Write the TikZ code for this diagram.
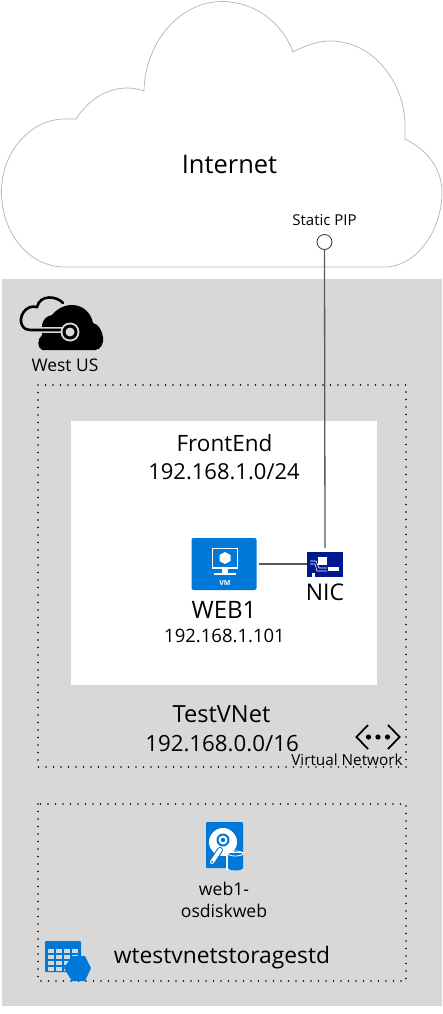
\documentclass[tikz,border=0pt]{standalone}
\usepackage{fontspec}
\setmainfont{Open Sans}
\definecolor{panelgray}{HTML}{D8D8D8}
\definecolor{azure}{HTML}{0078D7}
\definecolor{nicblue}{HTML}{00188F}
\definecolor{cloudline}{HTML}{B4B4B4}
\definecolor{wire}{HTML}{595959}
\tikzset{
  lbl/.style={inner sep=0pt,align=center,text=black,font=\fontsize{#1}{1.2\dimexpr #1pt\relax}\selectfont},
  lbl/.default=16,
  dotbox/.style={draw=black,line width=1.6pt,line cap=round,dash pattern=on 0pt off 7.5pt},
  wireline/.style={draw=wire,line width=1.3pt},
}
\begin{document}
\begin{tikzpicture}[x=1pt,y=-1pt]
\useasboundingbox (0,0) rectangle (443,1014);
\fill[white] (0,0) rectangle (443,1014);
% cloud
\draw[cloudline,line width=0.7pt,fill=white]
  (65,267) .. controls (28,267) and (1.5,232) .. (1.5,192)
  .. controls (1.5,150) and (32,119) .. (65,119)
  -- (76,119)
  .. controls (90,97) and (110,88) .. (127,88)
  .. controls (133,88) and (138,89) .. (144,91)
  .. controls (145,42) and (180,1.5) .. (222,1.5)
  .. controls (254,1.5) and (282,22) .. (293,52)
  .. controls (308,44) and (320,41) .. (330,41)
  .. controls (375,41) and (405,85) .. (405,125)
  -- (405,139)
  .. controls (428,150) and (442,170) .. (442,192)
  .. controls (442,232) and (415,267) .. (385,267) -- cycle;
% panel
\fill[panelgray] (1.5,279) rectangle (441.5,1006);
\fill[white] (71,421) rectangle (377,685);
\draw[dotbox] (38,385) rectangle (406,767);
\draw[dotbox] (38,804) rectangle (406,981);
% region icon
\fill[black] (42,350) -- (95,350) .. controls (101,350) and (104,343) .. (103,337)
  .. controls (102,330) and (98,324) .. (93,323)
  .. controls (91,312) and (82,305) .. (72,305)
  .. controls (63,305) and (56,310) .. (52,315)
  .. controls (46,316) and (43,320) .. (42,325)
  -- (42,335) .. controls (37,340) and (37,347) .. (42,350) -- cycle;
\draw[panelgray,line width=6.5pt] (36,330) -- (64,330);
\draw[panelgray,line width=3pt] (63,301) .. controls (57,294) and (40,292) .. (37,305);
\draw[black,line width=2.6pt,line cap=round] (63,303) .. controls (57,296) and (40,294) .. (37,307)
  .. controls (25,304) and (18,318) .. (22,325)
  .. controls (24,329) and (27,330) .. (30,330) -- (62,330);
\fill[panelgray] (70,332) circle (9.5);
\fill[black] (70,332) circle (7.5);
\fill[panelgray] (70,332) circle (4.5);
% texts top
\node[lbl=25.5] (internet) at (229.5,165) {Internet};
\node[lbl=15] (piplabel) at (324.5,220) {Static PIP};
\node[circle,draw=black!80,fill=white,line width=0.8pt,minimum size=15pt,inner sep=0pt] (pip) at (324.5,242) {};
\node[lbl=17.4] (westus) at (65,365) {West US};
% VM
\node[rectangle,rounded corners=2pt,fill=azure,minimum width=65pt,minimum height=52pt,inner sep=0pt] (vm) at (224,564) {};
\draw[white,line width=1.4pt] (212.5,548.5) rectangle (237.5,568);
\fill[white] (222,568) rectangle (228,573);
\fill[white] (214,573) rectangle (236,575);
\fill[white] (225,552) -- (230.5,555) -- (230.5,561) -- (225,564) -- (219.5,561) -- (219.5,555) -- cycle;
\node[inner sep=0pt,text=white,font=\fontsize{7}{8}\selectfont\bfseries] (vmtext) at (225,583) {VM};
% NIC
\node[rectangle,fill=nicblue,minimum width=36pt,minimum height=21pt,inner sep=0pt] (nic) at (325,562.5) {};
\fill[nicblue] (307,552) rectangle (312,577);
\fill[nicblue] (315,573) rectangle (343,577);
\fill[white] (318,557) rectangle (327,565);
\fill[white] (328,567) rectangle (339,571);
\draw[white,line width=0.6pt] (310,561) -- (316,561) -- (319,568) -- (327,568);
\draw[white,line width=0.6pt] (310,564) -- (315,564) -- (317,571) -- (327,571);
\coordinate (nicstop) at (325,548);
\draw[wireline] (vm.east) ++(2,0) -- (nic.west |- vm.east);
\draw[wireline] (pip.south) -- (nicstop);
\node[lbl=23] (niclabel) at (325,592) {NIC};
\node[lbl=22.5] (frontend) at (224.5,443) {FrontEnd};
\node[lbl=22] (subnet) at (224,472) {192.168.1.0/24};
\node[lbl=24] (web1) at (224,610) {WEB1};
\node[lbl=18.5] (web1ip) at (224.5,636) {192.168.1.101};
\node[lbl=23.6] (vnet) at (221.5,714) {TestVNet};
\node[lbl=22.3] (vnetip) at (222,744) {192.168.0.0/16};
\node[lbl=15.3] (vnetlabel) at (347,760) {Virtual Network};
% vnet icon
\draw[black,line width=1.8pt] (368,725) -- (356.5,737) -- (368,749);
\draw[black,line width=1.8pt] (388,725) -- (399.5,737) -- (388,749);
\fill[black] (368.5,737) circle (2.6) (378,737) circle (2.6) (387.5,737) circle (2.6);
% disk
\fill[azure,rounded corners=1pt] (206,822) rectangle (243,868);
\fill[white] (223,842) circle (14);
\fill[azure] (223,840) circle (6.5);
\fill[white] (223,840) circle (4.5);
\fill[azure] (223,840) circle (2.2);
\draw[azure,line width=6pt,line cap=round] (220,850) -- (212,862);
\draw[white,line width=4pt,line cap=round] (220,850) -- (212,862);
\fill[azure] (212,862) circle (1.2);
\fill[white] (225.5,852) rectangle (243,870);
\fill[azure] (228,853) rectangle (243,868);
\fill[azure] (235.5,868) ellipse (7.5 and 2.5);
\draw[white,line width=0.8pt] (235.5,853.5) ellipse (7.5 and 2.5);
\fill[white] (206,823) circle (0);
\node[lbl=17.6] (disk) at (224,889) {web1-};
\node[lbl=17.6] (disk2) at (224,911) {osdiskweb};
% storage
\fill[azure,rounded corners=1pt] (45,941) rectangle (81,972);
\foreach \col in {47.5,55.5,63.5,71.5}{
 \foreach \row in {949,955,961,966.5}{
  \fill[panelgray] (\col,\row) rectangle ++(6.5,4);
 }}
\fill[azure] (64,968) -- (72,956) -- (85,956) -- (91,968) -- (85,981) -- (72,981) -- cycle;
\node[lbl=22.8] (storage) at (222,958) {wtestvnetstoragestd};
\end{tikzpicture}
\end{document}
